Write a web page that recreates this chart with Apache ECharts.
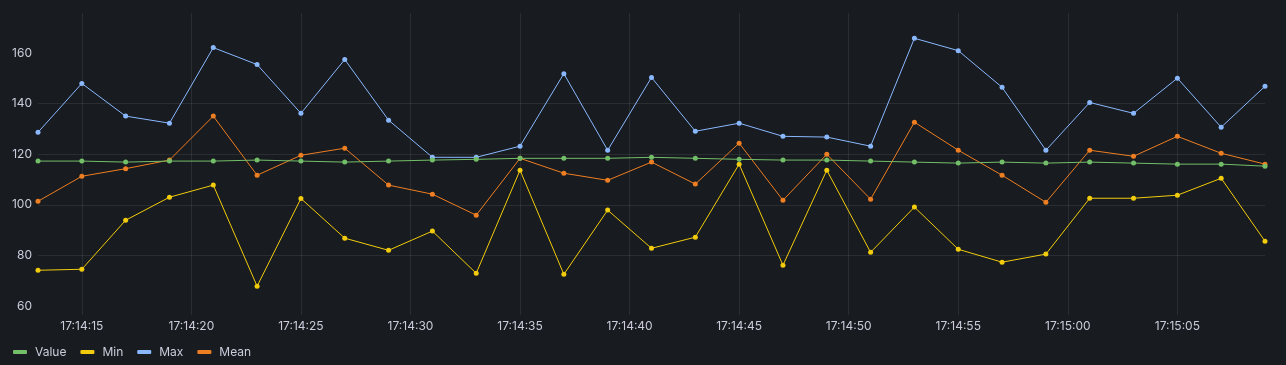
<!DOCTYPE html>
<html>
<head>
<meta charset="utf-8">
<script src="https://cdn.jsdelivr.net/npm/echarts@6/dist/echarts.min.js"></script>
<style>
html,body{margin:0;padding:0;background:#181b1f;}
#c{width:1286px;height:365px;}
</style>
</head>
<body>
<div id="c"></div>
<script>
const dateStr = '2024-01-01';
const times = ['17:14:13','17:14:15','17:14:17','17:14:19','17:14:21','17:14:23','17:14:25','17:14:27','17:14:29','17:14:31',
  '17:14:33','17:14:35','17:14:37','17:14:39','17:14:41','17:14:43','17:14:45','17:14:47','17:14:49','17:14:51',
  '17:14:53','17:14:55','17:14:57','17:14:59','17:15:01','17:15:03','17:15:05','17:15:07','17:15:09'];
const valueData = [117.3,117.3,116.9,117.3,117.3,117.7,117.3,116.9,117.3,117.7,
  118.0,118.4,118.4,118.4,118.8,118.4,118.0,117.7,117.7,117.3,
  116.9,116.5,116.9,116.5,116.9,116.5,116.1,116.1,115.3];
const minData = [74.1,74.5,93.9,103.0,107.8,67.8,102.5,86.8,82.0,89.6,
  72.9,113.7,72.5,97.9,82.8,87.2,116.1,76.1,113.7,81.2,
  99.1,82.4,77.3,80.5,102.6,102.6,103.8,110.5,85.6];
const maxData = [128.7,148.0,135.1,132.3,162.2,155.5,136.2,157.5,133.5,118.8,
  118.8,123.2,151.9,121.6,150.4,129.1,132.3,127.1,126.8,123.2,
  165.9,161.0,146.5,121.6,140.5,136.2,150.1,130.7,146.9];
const meanData = [101.4,111.3,114.3,117.7,135.1,111.7,119.6,122.4,107.8,104.2,
  95.9,118.4,112.5,109.7,116.9,108.2,124.4,101.8,120.0,102.2,
  132.7,121.6,111.7,101.0,121.6,119.2,127.1,120.4,116.1];
const yTicks = [60,80,100,120,140,160];
const seriesNames = ['Value','Min','Max','Mean'];
const colors = ['#73BF69','#F2CC0C','#8AB8FF','#EE7E22'];

const ts = times.map(t => new Date(dateStr + 'T' + t).getTime());
const pair = arr => arr.map((v,i) => [ts[i], v]);
const dataSets = [valueData, minData, maxData, meanData];

const chart = echarts.init(document.getElementById('c'), null, {renderer:'canvas'});
const txt = '#ccccdc';
const gridColor = 'rgba(204,204,220,0.10)';
chart.setOption({
  backgroundColor: '#181b1f',
  animation: false,
  textStyle: {fontFamily: 'Inter'},
  grid: {left: 38, right: 21, top: 13, bottom: 50, containLabel: false},
  xAxis: {
    type: 'time',
    min: ts[0], max: ts[ts.length-1],
    splitNumber: 11,
    axisLine: {show: false},
    axisTick: {show: false},
    splitLine: {show: true, showMinLine: false, showMaxLine: false, lineStyle: {color: gridColor, width: 1}},
    axisLabel: {
      color: txt, fontSize: 12, fontFamily: 'Inter', margin: 5,
      hideOverlap: false,
      formatter: v => echarts.time.format(v, '{HH}:{mm}:{ss}', false)
    }
  },
  yAxis: {
    type: 'value',
    min: 56.4, max: 175.9,
    axisLine: {show: false},
    axisTick: {show: false, customValues: yTicks},
    splitLine: {show: true, showMinLine: false, showMaxLine: false, lineStyle: {color: gridColor, width: 1}},
    axisLabel: {color: txt, fontSize: 12, fontFamily: 'Inter', margin: 6, customValues: yTicks}
  },
  legend: {
    left: 8, top: 341,
    icon: 'roundRect',
    itemWidth: 14, itemHeight: 4,
    itemGap: 14,
    textStyle: {color: txt, fontSize: 12, fontFamily: 'Inter', padding: [0,0,0,3]},
    data: seriesNames
  },
  series: seriesNames.map((n,i) => ({
    name: n, type: 'line',
    data: pair(dataSets[i]),
    color: colors[i],
    symbol: 'circle', symbolSize: 5, showSymbol: true,
    lineStyle: {width: 1, color: colors[i]},
    itemStyle: {color: colors[i]},
    z: i === 0 ? 5 : 2
  }))
});
</script>
</body>
</html>
